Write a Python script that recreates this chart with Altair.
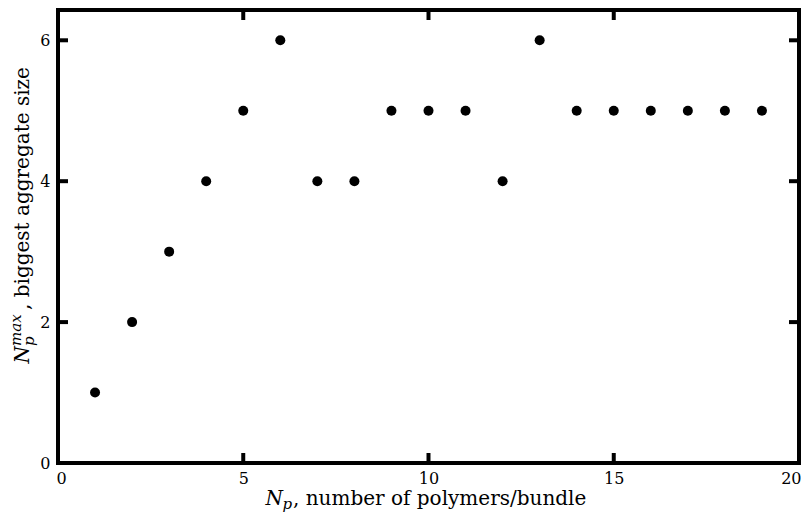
import altair as alt
import pandas as pd

# data
n_polymers = [1, 2, 3, 4, 5, 6, 7, 8, 9, 10, 11, 12, 13, 14, 15, 16, 17, 18, 19]
max_aggregate = [1, 2, 3, 4, 5, 6, 4, 4, 5, 5, 5, 4, 6, 5, 5, 5, 5, 5, 5]
x_tick_values = [0, 5, 10, 15, 20]
y_tick_values = [0, 2, 4, 6]
x_inner_ticks = [5, 10, 15]
y_inner_ticks = [2, 4, 6]

W, H = 741, 453
FONT = "DejaVu Serif"
LFONT = "DejaVu Serif"
TFS = 20

df = pd.DataFrame({"x": n_polymers, "y": max_aggregate})

xscale = alt.Scale(domain=[0, 20], nice=False, zero=True)
yscale = alt.Scale(domain=[0, 6.43], nice=False, zero=True)
xaxis = alt.Axis(values=x_tick_values, title=None, domain=False, ticks=False, grid=False,
                 labelFont=LFONT, labelFontSize=16, labelColor="black", labelPadding=7,
                 labelFlush=True, labelFlushOffset=2)
yaxis = alt.Axis(values=y_tick_values, title=None, domain=False, ticks=False, grid=False,
                 labelFont=LFONT, labelFontSize=16, labelColor="black", labelPadding=8)

points = alt.Chart(df).mark_circle(size=100, color="black", opacity=1).encode(
    x=alt.X("x:Q", scale=xscale, axis=xaxis),
    y=alt.Y("y:Q", scale=yscale, axis=yaxis),
)

xt = pd.DataFrame({"x": x_inner_ticks})
yt = pd.DataFrame({"y": y_inner_ticks})

xt_bottom = alt.Chart(xt).mark_rule(color="black", strokeWidth=4).encode(
    x=alt.X("x:Q", scale=xscale, axis=xaxis), y=alt.value(H), y2=alt.value(H - 10))
xt_top = alt.Chart(xt).mark_rule(color="black", strokeWidth=4).encode(
    x=alt.X("x:Q", scale=xscale, axis=xaxis), y=alt.value(0), y2=alt.value(10))
yt_left = alt.Chart(yt).mark_rule(color="black", strokeWidth=4).encode(
    y=alt.Y("y:Q", scale=yscale, axis=yaxis), x=alt.value(0), x2=alt.value(10))
yt_right = alt.Chart(yt).mark_rule(color="black", strokeWidth=4).encode(
    y=alt.Y("y:Q", scale=yscale, axis=yaxis), x=alt.value(W - 10), x2=alt.value(W))


def piece(text, x, y, size, italic=False, align="left", dx=0, dy=0, angle=0):
    kw = dict(font=FONT, fontSize=size, color="black", align=align, baseline="alphabetic",
              dx=dx, dy=dy, text=text)
    if italic:
        kw["fontStyle"] = "italic"
    if angle:
        kw["angle"] = angle
    return alt.Chart(pd.DataFrame({"t": [text]})).mark_text(**kw).encode(
        x=alt.value(x), y=alt.value(y))


# x title
xa, ya = 235, 495
x_title = [
    piece(", number of polymers/bundle", xa, ya, TFS),
    piece("p", xa, ya, 15, italic=True, align="right", dx=-1, dy=4),
    piece("N", xa, ya, TFS, italic=True, align="right", dx=-10),
]

# y title (rotated)
ax, ay = -29, 300
s = -36
y_title = [
    piece(", biggest aggregate size", ax, ay, TFS, angle=270),
    piece("max", ax, ay, 15, italic=True, align="left", dx=s, dy=-8, angle=270),
    piece("p", ax, ay, 15, italic=True, align="left", dx=s, dy=5, angle=270),
    piece("N", ax, ay, TFS, italic=True, align="right", dx=s, angle=270),
]

chart = alt.layer(points, xt_bottom, xt_top, yt_left, yt_right, *x_title, *y_title).properties(
    width=W, height=H,
    autosize=alt.AutoSizeParams(type="none"),
    padding={"left": 50, "top": 2, "right": 2, "bottom": 50},
    background="white",
).configure_view(stroke="black", strokeWidth=4)

chart.save("out.html", embed_options={"renderer": "svg", "actions": False})
